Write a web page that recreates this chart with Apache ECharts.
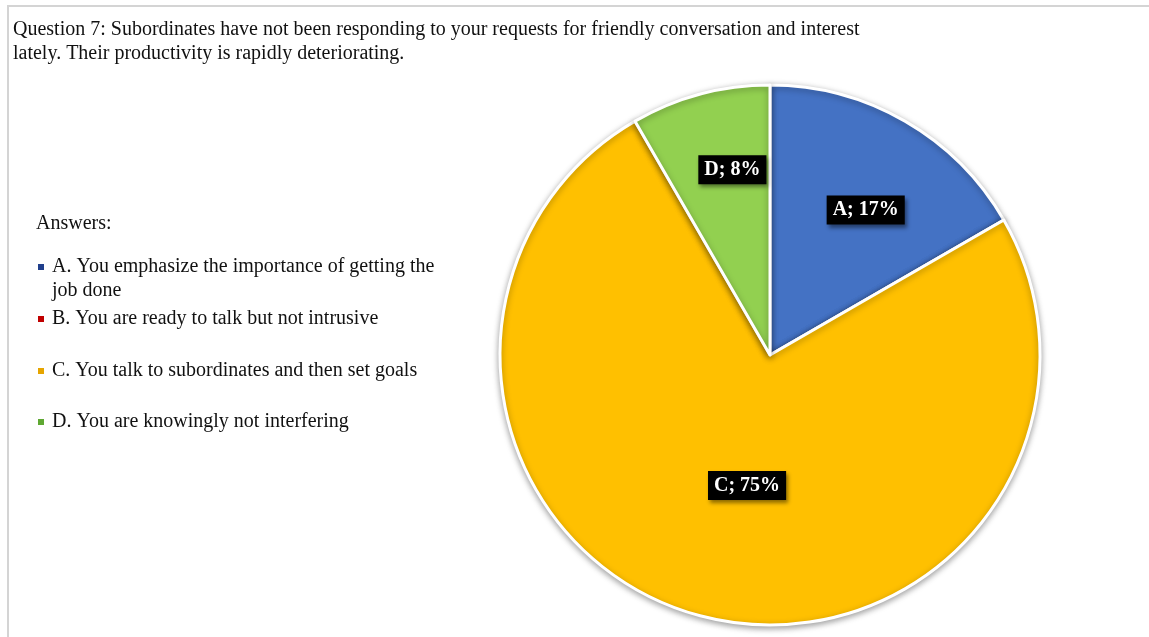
<!doctype html>
<html lang="en">
	<head>
		<meta charset="UTF-8">
		<title>echarts</title>
		<script src="https://cdn.jsdelivr.net/npm/echarts@6/dist/echarts.min.js"></script>
	</head>
	<body style="margin:0">
		<div id="main" style="width: 1149px; height: 637px;"></div>
		<script>
			// answers (counts out of 12 respondents)
			let categories = ['A', 'B', 'C', 'D']
			let answerTexts = [
				'A. You emphasize the importance of getting the\njob done',
				'B. You are ready to talk but not intrusive',
				'C. You talk to subordinates and then set goals',
				'D. You are knowingly not interfering'
			]
			let counts = [2, 0, 9, 1]
			let colors = ['#4472C4', '#C00000', '#FFC000', '#92D050']
			let legendColors = ['#203F8C', '#C00000', '#E6A500', '#5FA832']

			let serif = "'Liberation Serif', 'Times New Roman', serif"
			let cx = 770, cy = 355, radius = 270
			let labelDist = [0.62, 0, 0.5, 0.71]
			let labelShiftX = 12
			let legendTops = [267, 319, 371, 422]

			let total = counts.reduce((a, b) => a + b, 0)

			// one legend per answer so the rows can sit where the original has them
			let legends = categories.map((c, i) => {
				let txt = answerTexts[i]
				let lines = txt.split('\n').length
				// blank first line keeps the marker level with the first text line
				let label = lines > 1 ? ' \n' + txt : txt
				let half = lines > 1 ? 36 : 12
				return {
					data: [{ name: c, itemStyle: { color: legendColors[i] } }],
					orient: 'vertical',
					left: 36,
					top: legendTops[i] - half,
					padding: 0,
					selectedMode: false,
					icon: 'rect',
					itemWidth: 8,
					itemHeight: 8,
					itemGap: 0,
					formatter: () => label,
					textStyle: {
						fontFamily: serif,
						fontSize: 20,
						lineHeight: 24,
						color: '#111',
						padding: [0, 0, 0, 2]
					}
				}
			})

			let mCharts = echarts.init(document.getElementById('main'))
			let option = {
				backgroundColor: '#fff',
				animation: false,
				graphic: [{
					type: 'rect',
					shape: { x: 8, y: 6, width: 1200, height: 700 },
					style: { fill: 'none', stroke: '#d4d4d4', lineWidth: 2 }
				}],
				title: [{
					text: 'Question 7: Subordinates have not been responding to your requests for friendly conversation and interest\nlately. Their productivity is rapidly deteriorating.',
					left: 8,
					top: 13,
					textStyle: { fontFamily: serif, fontSize: 20, fontWeight: 'normal', lineHeight: 24, color: '#111' }
				}, {
					text: 'Answers:',
					left: 31,
					top: 209,
					textStyle: { fontFamily: serif, fontSize: 20, fontWeight: 'normal', color: '#111' }
				}],
				legend: legends,
				series: [{
					type: 'pie',
					center: [cx, cy],
					radius: radius,
					startAngle: 90,
					clockwise: true,
					percentPrecision: 0,
					data: categories.map((c, i) => ({
						name: c,
						value: counts[i],
						itemStyle: { color: colors[i] },
						label: { show: counts[i] > 0 }
					})),
					itemStyle: {
						borderColor: '#fff',
						borderWidth: 3,
						shadowBlur: 6,
						shadowColor: 'rgba(0,0,0,0.35)',
						shadowOffsetY: 2
					},
					label: {
						position: 'inside',
						formatter: '{b}; {d}%',
						fontFamily: serif,
						fontSize: 20,
						fontWeight: 'bold',
						color: '#fff',
						backgroundColor: '#000',
						padding: [5, 6, 4, 6],
						shadowBlur: 4,
						shadowColor: 'rgba(0,0,0,0.45)',
						shadowOffsetX: 2,
						shadowOffsetY: 3
					},
					labelLine: { show: false },
					labelLayout: (p) => {
						let i = p.dataIndex
						let before = counts.slice(0, i).reduce((a, b) => a + b, 0)
						let mid = (before + counts[i] / 2) / total * 2 * Math.PI
						let d = labelDist[i] * radius
						return {
							x: cx + d * Math.sin(mid) + labelShiftX,
							y: cy - d * Math.cos(mid),
							align: 'center',
							verticalAlign: 'middle'
						}
					}
				}]
			}
			mCharts.setOption(option)
		</script>
	</body>
</html>
